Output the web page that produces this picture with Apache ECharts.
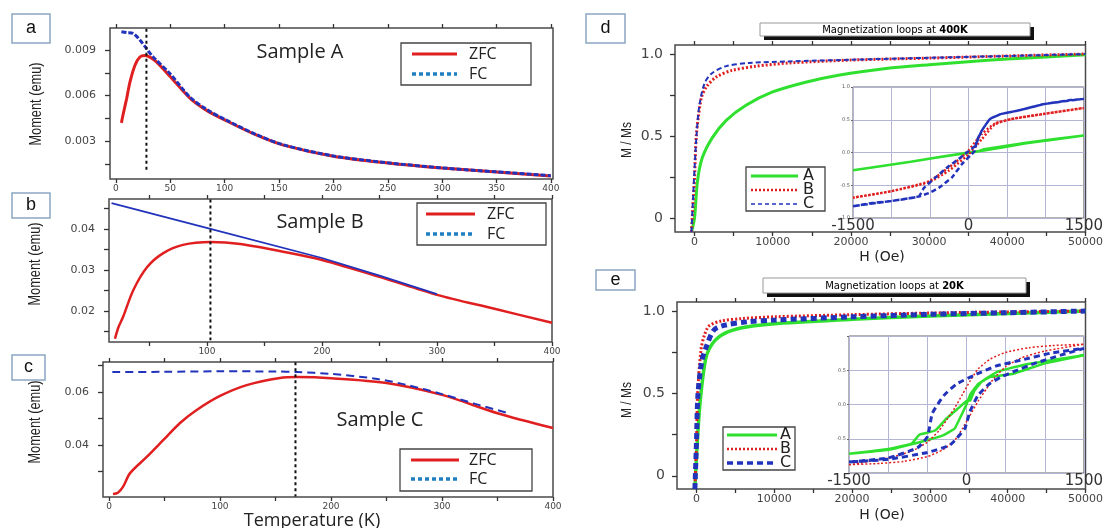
<!DOCTYPE html>
<html>
<head>
<meta charset="utf-8">
<script src="https://cdn.jsdelivr.net/npm/echarts@6/dist/echarts.min.js"></script>
<style>
  body { margin: 0; background: #fff; }
  #main { width: 1106px; height: 528px; }
</style>
</head>
<body>
<div id="main"></div>
<script>
// ZFC / FC curves, [T (K), moment (emu)]
var aZfc = [[5, 0.0042], [6.4, 0.0047], [9.8, 0.0058], [12.9, 0.0069], [17.5, 0.0080], [22, 0.00854], [26.7, 0.00863], [32, 0.0085], [37, 0.00823], [50, 0.00724], [68, 0.00583], [83, 0.00504], [102, 0.00432], [129, 0.0034], [154, 0.00273], [200, 0.0020], [250, 0.00155], [300, 0.00122], [350, 0.00096], [400, 0.0007]]
var aFc = [[5, 0.0102], [10, 0.01015], [15.6, 0.0101], [22, 0.00966], [28, 0.0091], [34, 0.00856], [50, 0.00742], [68, 0.0059], [83, 0.0051], [102, 0.00436], [129, 0.00343], [154, 0.00275], [200, 0.00202], [250, 0.00157], [300, 0.00123], [350, 0.00097], [400, 0.00072]]
var bZfc = [[20, 0.0132], [23, 0.016], [27, 0.0185], [36, 0.0251], [48, 0.0307], [62, 0.0341], [79, 0.0361], [103, 0.0368], [129, 0.0363], [172, 0.0341], [200, 0.0324], [250, 0.0283], [300, 0.0239], [350, 0.0205], [400, 0.0171]]
var bFc = [[17, 0.0463], [103, 0.0400], [200, 0.0329], [250, 0.0286], [300, 0.0241]]
var cZfc = [[3.6, 0.0215], [8, 0.0220], [12.6, 0.0242], [19, 0.0294], [34, 0.0355], [49, 0.0419], [64, 0.0483], [79, 0.0532], [100, 0.0585], [124, 0.0626], [154, 0.0653], [170, 0.0656], [200, 0.0652], [250, 0.0634], [300, 0.0589], [350, 0.052], [400, 0.0464]]
var cFc = [[3, 0.0675], [50, 0.0676], [100, 0.0678], [150, 0.0677], [170, 0.0675], [200, 0.0668], [240, 0.065], [270, 0.0625], [300, 0.0592], [330, 0.0555], [360, 0.052]]
// blocking temperatures marked by the dotted lines
var aTb = 28
var bTb = 103
var cTb = 168

// M/Ms loops, [H (Oe), M/Ms]
var dA = [[-380, -0.086], [0, 0.0], [380, 0.227], [1000, 0.368], [2280, 0.49], [4050, 0.595], [6580, 0.687], [9900, 0.767], [14200, 0.828], [18400, 0.871], [25000, 0.915], [30000, 0.935], [35000, 0.953], [40000, 0.969], [45000, 0.982], [50000, 0.995]]
var dB = [[-400, -0.086], [0, 0.25], [220, 0.5], [500, 0.62], [890, 0.736], [1520, 0.80], [2780, 0.86], [4800, 0.90], [7850, 0.925], [12000, 0.945], [20000, 0.963], [30000, 0.975], [40000, 0.988], [50000, 1.0]]
var dC = [[-400, -0.086], [0, 0.3], [250, 0.5], [600, 0.68], [1270, 0.82], [2150, 0.88], [4050, 0.926], [6960, 0.945], [12000, 0.955], [20000, 0.965], [30000, 0.977], [40000, 0.988], [50000, 1.0]]
var dInA = [[-1500, -0.27], [-750, -0.14], [-150, -0.03], [100, 0.01], [200, 0.05], [750, 0.15], [1500, 0.26], [750, 0.14], [200, 0.03], [0, 0.0], [-750, -0.14], [-1500, -0.27]]
var dInB = [[-1500, -0.69], [-1000, -0.59], [-514, -0.44], [-257, -0.23], [-100, -0.08], [0, 0.03], [171, 0.28], [343, 0.44], [557, 0.51], [985, 0.59], [1500, 0.68], [985, 0.59], [557, 0.51], [343, 0.43], [171, 0.2], [0, -0.03], [-150, -0.18], [-257, -0.28], [-514, -0.45], [-1000, -0.59], [-1500, -0.69]]
var dInC = [[-1500, -0.82], [-1243, -0.77], [-1000, -0.74], [-771, -0.70], [-643, -0.67], [-514, -0.62], [-386, -0.54], [-214, -0.38], [-86, -0.18], [21, -0.05], [86, 0.03], [107, 0.18], [171, 0.33], [278, 0.51], [428, 0.59], [643, 0.64], [985, 0.74], [1328, 0.80], [1500, 0.82], [985, 0.74], [643, 0.64], [428, 0.59], [278, 0.51], [171, 0.33], [86, 0.10], [-21, 0.0], [-128, -0.10], [-257, -0.21], [-428, -0.38], [-578, -0.54], [-643, -0.67], [-771, -0.70], [-1000, -0.74], [-1500, -0.82]]

var eA = [[-200, -0.08], [100, 0.2], [380, 0.4], [580, 0.5], [1000, 0.66], [1400, 0.745], [2460, 0.825], [4100, 0.875], [6600, 0.905], [10400, 0.925], [20000, 0.95], [30000, 0.97], [40000, 0.985], [50000, 1.0]]
var eB = [[-200, -0.08], [0, 0.2], [160, 0.5], [580, 0.763], [1000, 0.85], [1625, 0.91], [3250, 0.94], [6000, 0.955], [10000, 0.965], [20000, 0.978], [30000, 0.988], [40000, 0.995], [50000, 1.0]]
var eC = [[-200, -0.08], [0, 0.2], [200, 0.5], [700, 0.70], [1200, 0.775], [2250, 0.885], [3700, 0.915], [6600, 0.935], [10000, 0.945], [20000, 0.965], [30000, 0.98], [40000, 0.99], [50000, 1.0]]
var eInA = [[-1500, -0.72], [-1000, -0.65], [-700, -0.57], [-600, -0.44], [-400, -0.38], [-250, -0.2], [-100, -0.05], [0, 0.05], [50, 0.06], [100, 0.2], [200, 0.34], [400, 0.48], [700, 0.57], [1000, 0.63], [1500, 0.72], [1000, 0.60], [600, 0.45], [300, 0.40], [150, 0.30], [50, 0.15], [0, 0.0], [-50, -0.12], [-150, -0.35], [-300, -0.45], [-600, -0.55], [-1000, -0.66], [-1500, -0.72]]
var eInB = [[-1500, -0.88], [-1000, -0.78], [-700, -0.68], [-500, -0.55], [-350, -0.38], [-250, -0.22], [-150, -0.05], [-50, 0.15], [50, 0.35], [150, 0.52], [300, 0.66], [500, 0.76], [800, 0.83], [1100, 0.86], [1500, 0.88], [1000, 0.78], [700, 0.68], [500, 0.55], [350, 0.38], [250, 0.22], [150, 0.05], [50, -0.15], [-50, -0.35], [-150, -0.52], [-300, -0.66], [-500, -0.76], [-800, -0.83], [-1100, -0.86], [-1500, -0.88]]
var eInC = [[-1500, -0.84], [-996, -0.78], [-623, -0.63], [-498, -0.47], [-436, -0.13], [-290, 0.13], [-125, 0.30], [125, 0.44], [374, 0.56], [706, 0.65], [1079, 0.75], [1500, 0.82], [1203, 0.72], [872, 0.60], [623, 0.49], [457, 0.41], [290, 0.30], [145, 0.13], [42, -0.11], [-21, -0.35], [-208, -0.59], [-498, -0.70], [-996, -0.80], [-1500, -0.84]]

// ticks and labels
var tempTicks = [0, 50, 100, 150, 200, 250, 300, 350, 400]
var aTempLabels = [0, 50, 100, 150, 200, 250, 300, 350, 400]
var bTempTicks = [50, 100, 150, 200, 250, 300, 350, 400]
var bTempLabels = [100, 200, 300, 400]
var cTempLabels = [0, 100, 200, 300, 400]
var aMomTicks = [0.0015, 0.003, 0.0045, 0.006, 0.0075, 0.009]
var aMomLabels = [0.003, 0.006, 0.009]
var bMomTicks = [0.015, 0.02, 0.025, 0.03, 0.035, 0.04, 0.045]
var bMomLabels = [0.02, 0.03, 0.04]
var cMomTicks = [0.03, 0.04, 0.05, 0.06, 0.07]
var cMomLabels = [0.04, 0.06]
var fieldTicks = [0, 5000, 10000, 15000, 20000, 25000, 30000, 35000, 40000, 45000, 50000]
var fieldLabels = [0, 10000, 20000, 30000, 40000, 50000]
var mTicks = [0, 0.25, 0.5, 0.75, 1.0]
var mLabels = [0, 0.5, 1.0]
var insetFieldLabels = [-1500, 0, 1500]

var RED = '#e02020'
var BLUE = '#2233bb'
var GREEN = '#2fe02f'

var tickFont = { fontFamily: 'DejaVu Sans', color: '#444' }

function xAxis (grid, min, max, ticks, labels, fmt, size, pos) {
  return {
    type: 'value', gridIndex: grid, min: min, max: max, position: pos || 'bottom',
    axisLine: { show: false, onZero: false }, splitLine: { show: false },
    axisTick: { show: true, customValues: ticks, length: 4, lineStyle: { color: '#333', width: 1.3 } },
    axisLabel: Object.assign({ show: !!labels, customValues: labels || ticks, fontSize: size, margin: 5, formatter: fmt }, tickFont)
  }
}
function yAxis (grid, min, max, ticks, labels, fmt, size, margin) {
  return {
    type: 'value', gridIndex: grid, min: min, max: max,
    axisLine: { show: false, onZero: false }, splitLine: { show: false },
    axisTick: { show: true, customValues: ticks, length: 5, lineStyle: { color: '#333', width: 1.3 } },
    axisLabel: Object.assign({ customValues: labels, fontSize: size, margin: margin, formatter: fmt }, tickFont)
  }
}
function plain (v) { return String(v) }
function oneDec (v) { return v === 0 ? '0' : v.toFixed(1) }

function curve (name, data, xi, yi, color, width, type, smooth) {
  return {
    name: name, type: 'line', xAxisIndex: xi, yAxisIndex: yi, data: data,
    symbol: 'none', smooth: smooth === undefined ? 0.3 : smooth, silent: true,
    lineStyle: { color: color, width: width, type: type || 'solid' }
  }
}
function marker (x, y0, y1, xi, yi) {
  return {
    type: 'line', xAxisIndex: xi, yAxisIndex: yi, data: [[x, y0], [x, y1]], symbol: 'none', silent: true,
    lineStyle: { color: '#111', width: 2, type: [3, 3] }, z: 5
  }
}

function labelBox (x, y, w, h, txt) {
  return {
    type: 'group', children: [
      { type: 'rect', shape: { x: x, y: y, width: w, height: h }, style: { fill: '#fff', stroke: '#8aa6c1', lineWidth: 1.5 } },
      { type: 'text', x: x + w / 2, y: y + h / 2, style: { text: txt, font: '18px "Liberation Sans"', fill: '#111', textAlign: 'center', textVerticalAlign: 'middle', align: 'center', verticalAlign: 'middle' } }
    ]
  }
}
// sx squeezes a label along its own length (the reference uses a condensed face)
function tText (x, y, txt, font, rot, sx) {
  return {
    type: 'text', x: x, y: y, rotation: rot || 0, scaleX: sx || 1,
    style: { text: txt, font: font, fill: '#222', textAlign: 'center', textVerticalAlign: 'middle', align: 'center', verticalAlign: 'middle' }
  }
}
function legendBox (x, y, w, h, rows, lx0, lx1, tx, font) {
  var kids = [{ type: 'rect', shape: { x: x, y: y, width: w, height: h }, style: { fill: '#fff', stroke: '#444', lineWidth: 1.3 } }]
  rows.forEach(function (r) {
    kids.push({ type: 'line', shape: { x1: lx0, y1: r.y, x2: lx1, y2: r.y }, style: { stroke: r.color, lineWidth: r.width, lineDash: r.dash || null } })
    kids.push({ type: 'text', x: tx, y: r.y, style: { text: r.text, font: font, fill: '#222', textAlign: 'left', textVerticalAlign: 'middle', align: 'left', verticalAlign: 'middle' } })
  })
  return { type: 'group', children: kids }
}
function titleBox (x, y, w, h, temp) {
  return {
    type: 'group', children: [
      { type: 'rect', shape: { x: x + 4, y: y + 4, width: w, height: h }, style: { fill: '#111' } },
      { type: 'rect', shape: { x: x, y: y, width: w, height: h }, style: { fill: '#fff', stroke: '#999', lineWidth: 1 } },
      { type: 'text', x: x + w / 2, y: y + h / 2 + 0.5,
        style: { text: '{n|Magnetization loops at }{b|' + temp + '}', textAlign: 'center', textVerticalAlign: 'middle', align: 'center', verticalAlign: 'middle',
          rich: { n: { fontFamily: 'DejaVu Sans', fontSize: 10, color: '#333' }, b: { fontFamily: 'DejaVu Sans', fontSize: 10, fontWeight: 'bold', color: '#222' } } } }
    ]
  }
}
function insetX (grid) {
  return {
    type: 'value', gridIndex: grid, min: -1500, max: 1500, interval: 500,
    axisLine: { show: false, onZero: false }, axisTick: { show: false },
    splitLine: { show: true, lineStyle: { color: '#b4b4d4', width: 1 } },
    axisLabel: { customValues: insetFieldLabels, fontSize: 15, margin: 1, fontFamily: 'DejaVu Sans', color: '#333', formatter: plain }
  }
}
function insetY (grid, fmt) {
  return {
    type: 'value', gridIndex: grid, min: -1, max: 1, interval: 0.5,
    axisLine: { show: false, onZero: false }, axisTick: { show: true, length: 2, lineStyle: { color: '#666' } },
    splitLine: { show: true, lineStyle: { color: '#b4b4d4', width: 1 } },
    axisLabel: { fontSize: 5, margin: 3, color: '#555', fontFamily: 'DejaVu Sans', formatter: fmt }
  }
}

var frameL = { show: true, borderColor: '#4a4a4a', borderWidth: 1.5, backgroundColor: '#fff' }
var narrow = '"Liberation Sans",sans-serif'
var sample = '"Open Sans",sans-serif'

var option = {
  backgroundColor: '#fff',
  animation: false,
  grid: [
    Object.assign({ left: 110, top: 28, width: 443, height: 151 }, frameL),
    Object.assign({ left: 109, top: 199, width: 443, height: 143 }, frameL),
    Object.assign({ left: 103, top: 362, width: 450, height: 135 }, frameL),
    Object.assign({ left: 675, top: 45, width: 415, height: 187 }, frameL),
    { left: 853, top: 87, width: 234, height: 131, show: true, borderColor: '#666', borderWidth: 1, backgroundColor: '#fff' },
    Object.assign({ left: 677, top: 302, width: 411, height: 187 }, frameL),
    { left: 849, top: 336, width: 239, height: 137, show: true, borderColor: '#666', borderWidth: 1, backgroundColor: '#fff' }
  ],
  xAxis: [
    xAxis(0, -5.5, 402, tempTicks, aTempLabels, plain, 9),
    xAxis(0, -5.5, 402, tempTicks, null, plain, 9, 'top'),
    xAxis(1, 14.8, 400, bTempTicks, bTempLabels, plain, 9),
    xAxis(1, 14.8, 400, bTempTicks, null, plain, 9, 'top'),
    xAxis(2, -5.4, 400, tempTicks, cTempLabels, plain, 9),
    xAxis(2, -5.4, 400, tempTicks, null, plain, 9, 'top'),
    xAxis(3, -2500, 50000, fieldTicks, fieldLabels, plain, 11),
    xAxis(3, -2500, 50000, fieldTicks, null, plain, 11, 'top'),
    insetX(4),
    xAxis(5, -2500, 50000, fieldTicks, fieldLabels, plain, 11),
    xAxis(5, -2500, 50000, fieldTicks, null, plain, 11, 'top'),
    insetX(6)
  ],
  yAxis: [
    yAxis(0, 0.0005, 0.01045, aMomTicks, aMomLabels, function (v) { return v.toFixed(3) }, 11, 14),
    yAxis(1, 0.0124, 0.0473, bMomTicks, bMomLabels, function (v) { return v.toFixed(2) }, 11, 14),
    yAxis(2, 0.0204, 0.0713, cMomTicks, cMomLabels, function (v) { return v.toFixed(2) }, 11, 14),
    yAxis(3, -0.086, 1.055, mTicks, mLabels, oneDec, 14, 12),
    insetY(4, function (v) { return v.toFixed(1) }),
    yAxis(5, -0.08, 1.055, mTicks, mLabels, oneDec, 14, 12),
    insetY(6, function (v) { return Math.abs(v) === 1 ? '' : v.toFixed(1) })
  ],
  series: [
    marker(aTb, 0.0104, 0.0011, 0, 0),
    curve('ZFC', aZfc, 0, 0, RED, 3),
    curve('FC', aFc, 0, 0, BLUE, 3, [5, 2]),
    marker(bTb, 0.0472, 0.0128, 2, 1),
    curve('ZFC', bZfc, 2, 1, RED, 2.5),
    curve('FC', bFc, 2, 1, BLUE, 1.8, 'solid', 0),
    marker(cTb, 0.0712, 0.0206, 4, 2),
    curve('ZFC', cZfc, 4, 2, RED, 2.5),
    curve('FC', cFc, 4, 2, BLUE, 2, [8, 5]),
    curve('A', dA, 6, 3, GREEN, 3),
    curve('B', dB, 6, 3, RED, 3, [2, 2]),
    curve('C', dC, 6, 3, BLUE, 2, [5, 3]),
    curve('A', dInA, 8, 4, GREEN, 2.5, 'solid', 0.1),
    curve('B', dInB, 8, 4, RED, 2.5, [2, 2], 0.2),
    curve('C', dInC, 8, 4, BLUE, 2.5, [5, 3], 0.1),
    curve('A', eA, 9, 5, GREEN, 3.5),
    curve('B', eB, 9, 5, RED, 3, [2, 2]),
    curve('C', eC, 9, 5, BLUE, 5, [6, 4]),
    curve('A', eInA, 11, 6, GREEN, 2.5, 'solid', 0.1),
    curve('B', eInB, 11, 6, RED, 1.5, [2, 2], 0.2),
    curve('C', eInC, 11, 6, BLUE, 3, [6, 4], 0.15)
  ],
  graphic: [
    labelBox(12, 14, 38, 29, 'a'),
    labelBox(12, 193, 38, 25, 'b'),
    labelBox(12, 355, 33, 25, 'c'),
    labelBox(586, 14, 39, 29, 'd'),
    labelBox(596, 270, 39, 20, 'e'),
    titleBox(760, 23, 270, 13, '400K'),
    titleBox(763, 278, 263, 15, '20K'),
    tText(300, 52, 'Sample A', '20px ' + sample),
    tText(320, 222, 'Sample B', '20px ' + sample),
    tText(380, 420, 'Sample C', '20px ' + sample),
    tText(37, 104, 'Moment (emu)', '16px ' + narrow, Math.PI / 2, 0.8),
    tText(36, 264, 'Moment (emu)', '16px ' + narrow, Math.PI / 2, 0.8),
    tText(36, 422, 'Moment (emu)', '16px ' + narrow, Math.PI / 2, 0.8),
    tText(312, 521, 'Temperature (K)', '18px ' + sample),
    tText(882, 257, 'H (Oe)', '14px "DejaVu Sans"'),
    tText(882, 515, 'H (Oe)', '14px "DejaVu Sans"'),
    tText(627, 140, 'M / Ms', '15px ' + narrow, Math.PI / 2, 0.8),
    tText(627, 400, 'M / Ms', '15px ' + narrow, Math.PI / 2, 0.8),
    legendBox(401, 43, 130, 42, [
      { y: 54, color: RED, width: 3, text: 'ZFC' },
      { y: 74, color: '#1f7fc0', width: 3.5, dash: [4, 3], text: 'FC' }
    ], 412, 457, 469, '16px ' + sample),
    legendBox(417, 203, 129, 42, [
      { y: 214, color: RED, width: 3, text: 'ZFC' },
      { y: 234, color: '#1f7fc0', width: 3.5, dash: [4, 3], text: 'FC' }
    ], 426, 475, 487, '16px ' + sample),
    legendBox(400, 449, 132, 42, [
      { y: 460, color: RED, width: 3, text: 'ZFC' },
      { y: 479, color: '#1f7fc0', width: 3.5, dash: [4, 3], text: 'FC' }
    ], 411, 459, 469, '16px ' + sample),
    legendBox(746, 167, 79, 44, [
      { y: 176, color: GREEN, width: 3, text: 'A' },
      { y: 190, color: RED, width: 2.5, dash: [2, 2], text: 'B' },
      { y: 204, color: BLUE, width: 1.5, dash: [4, 3], text: 'C' }
    ], 751, 798, 803, '16px "DejaVu Sans"'),
    legendBox(723, 427, 72, 43, [
      { y: 435, color: GREEN, width: 3, text: 'A' },
      { y: 449, color: RED, width: 2.5, dash: [2, 2], text: 'B' },
      { y: 463, color: BLUE, width: 3.5, dash: [6, 4], text: 'C' }
    ], 727, 777, 780, '16px "DejaVu Sans"')
  ]
}

var chart = echarts.init(document.getElementById('main'))
chart.setOption(option)
</script>
</body>
</html>
